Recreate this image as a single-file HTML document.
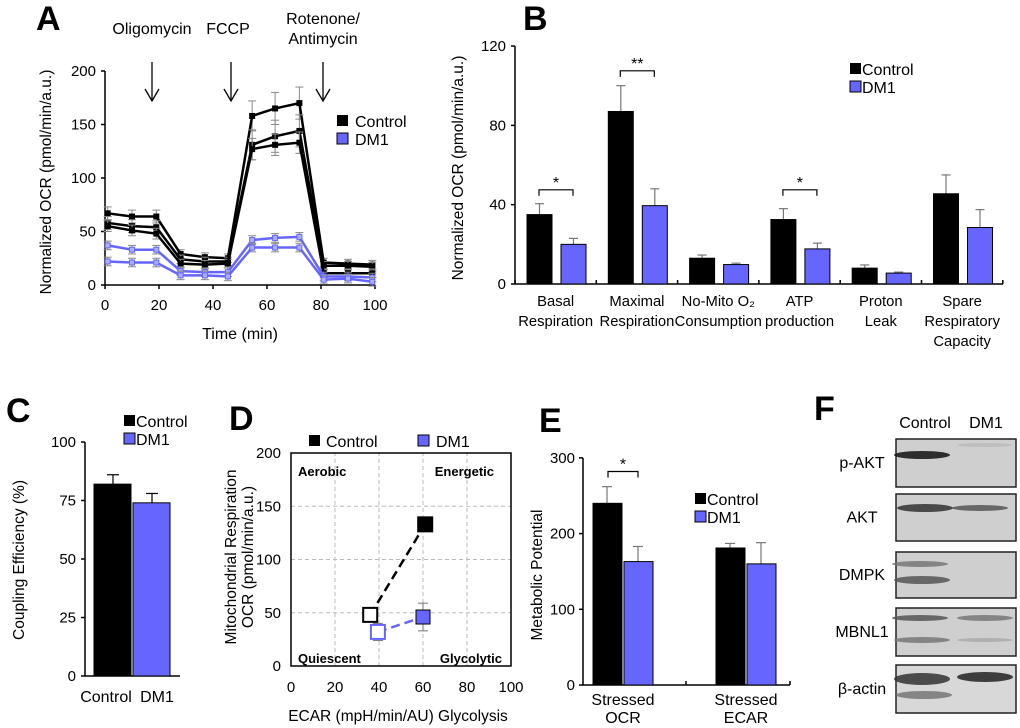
<!DOCTYPE html>
<html><head><meta charset="utf-8"><style>
body{margin:0;background:#fff}
svg{display:block;font-family:"Liberation Sans",Arial,sans-serif}
</style></head><body>
<svg id="fig" width="1020" height="728" viewBox="0 0 1020 728" xmlns="http://www.w3.org/2000/svg">
<g id="A"></g>
<g id="B"></g>
<g id="C"></g>
<g id="D"></g>
<g id="E"></g>
<g id="F"></g>
</svg>
<script>
const BLUE='#6666ff';
const TK=15, LB=16, TT=15.5;
// Panel A data
const aTimes=[1,10,19,28,37,45.5,54.5,63,72,81,90,99];
const aCtrl1=[67,64,64,29,26,25,158,165,170,21,20,19];
const aCtrl2=[58,55,54,24,22,22,131,139,144,18,18,17];
const aCtrl3=[55,51,48,20,19,20,127,131,133,11,11,11];
const aDm1a=[37,33,33,13,12,12,42,44,45,8,8,7];
const aDm1b=[22,21,21,9,9,8,35,35,35,5,6,3];
const aErr=[5,5,5,4,4,4,10,10,10,4,4,4];
const aErrPeak=[6,6,6,4,4,4,14,15,15,4,4,4];
const aYTicks=[0,50,100,150,200];
const aXTicks=[0,20,40,60,80,100];
// Panel B
const bCats=[["Basal","Respiration"],["Maximal","Respiration"],["No-Mito O₂","Consumption"],["ATP","production"],["Proton","Leak"],["Spare","Respiratory","Capacity"]];
const bCtrl=[35,87,13,32.5,8,45.5];
const bCtrlErr=[5.5,13,1.6,5.5,1.6,9.5];
const bDm1=[20,39.5,9.8,17.7,5.5,28.5];
const bDm1Err=[3,8.5,0.7,2.9,0.5,9];
const bYTicks=[0,40,80,120];
// Panel C
const cCats=["Control","DM1"];
const cVals=[82,74];
const cErr=[4,4];
const cYTicks=[0,25,50,75,100];
// Panel D
const dCtrlX=[36,61], dCtrlY=[48,133];
const dDmX=[39.5,60], dDmY=[32,46];
const dDmErr=[8,13];
const dXTicks=[0,20,40,60,80,100];
const dYTicks=[0,50,100,150,200];
// Panel E
const eCats=[["Stressed","OCR"],["Stressed","ECAR"]];
const eCtrl=[240,181];
const eCtrlErr=[22,6];
const eDm1=[163,160];
const eDm1Err=[20,28];
const eYTicks=[0,100,200,300];
// Panel F
const fLabels=["p-AKT","AKT","DMPK","MBNL1","β-actin"];

const NS='http://www.w3.org/2000/svg';
function mk(parent,tag,attrs,text){const e=document.createElementNS(NS,tag);for(const k in attrs)e.setAttribute(k,attrs[k]);if(text!==undefined)e.textContent=text;parent.appendChild(e);return e;}
function line(p,x1,y1,x2,y2,st,w,dash){return mk(p,'line',{x1,y1,x2,y2,stroke:st||'#000','stroke-width':w||1.5,'stroke-dasharray':dash||'none'});}
function txt(p,x,y,s,size,anchor,weight){return mk(p,'text',{x,y,'font-size':size||LB,'text-anchor':anchor||'middle','font-weight':weight||'normal',fill:'#000'},s);}
function vtxt(p,x,y,s,size){return mk(p,'text',{x:0,y:0,'font-size':size||TT,'text-anchor':'middle',transform:`translate(${x},${y}) rotate(-90)`},s);}

// ---- Panel A ----
(function(){
const g=document.getElementById('A');
const ax=v=>105+v*2.7, ay=v=>285-v*1.07;
let t=txt(g,36,30,'A',34,'start','bold');

line(g,ax(0),ay(0),ax(100),ay(0));line(g,ax(0),ay(0),ax(0),ay(200));
aYTicks.forEach(v=>{line(g,ax(0)-4,ay(v),ax(0),ay(v));txt(g,ax(0)-9,ay(v)+5,String(v),TK,'end');});
aXTicks.forEach(v=>{line(g,ax(v),ay(0),ax(v),ay(0)+4);txt(g,ax(v),ay(0)+25,String(v),TK);});
t=txt(g,240,339,'Time (min)',LB);
t=vtxt(g,51,182,'Normalized OCR (pmol/min/a.u.)');

[['Oligomycin',152,34],['FCCP',228,34],['Rotenone/',323,24],['Antimycin',323,44]].forEach(a=>txt(g,a[1],a[2],a[0],LB));
[152,231,323].forEach(x=>{line(g,x,62,x,100,'#000',1.3);mk(g,'polyline',{points:`${x-7},89 ${x},101 ${x+7},89`,fill:'none',stroke:'#000','stroke-width':1.3});});
const series=[[aCtrl1,'#000',aErrPeak],[aCtrl2,'#000',aErrPeak],[aCtrl3,'#000',aErr],[aDm1a,BLUE,aErr],[aDm1b,BLUE,aErr]];
series.forEach((s,si)=>{
  const [vals,col,err]=s; const sg=mk(g,'g',{});
  
  
  vals.forEach((v,i)=>{const e=col==='#000'?err[i]:Math.min(err[i],4);line(sg,ax(aTimes[i]),ay(v-e),ax(aTimes[i]),ay(v+e),'#888',1);line(sg,ax(aTimes[i])-4,ay(v+e),ax(aTimes[i])+4,ay(v+e),'#888',1);line(sg,ax(aTimes[i])-4,ay(v-e),ax(aTimes[i])+4,ay(v-e),'#888',1);});
  mk(sg,'polyline',{points:vals.map((v,i)=>ax(aTimes[i])+','+ay(v)).join(' '),fill:'none',stroke:col,'stroke-width':2.5});
  vals.forEach((v,i)=>mk(sg,'rect',{x:ax(aTimes[i])-2.5,y:ay(v)-2.5,width:5,height:5,fill:col==='#000'?'#000':'#aab0ff',stroke:col,'stroke-width':1}));
});
const lg=mk(g,'g',{});
mk(lg,'rect',{x:337,y:115,width:11,height:11,fill:'#000'});txt(lg,355,127,'Control',LB,'start');
mk(lg,'rect',{x:337,y:133,width:11,height:11,fill:BLUE,stroke:'#000'});txt(lg,355,145,'DM1',LB,'start');
})();

// ---- Panel B ----
(function(){
const g=document.getElementById('B');
const x0=515,gw=81.3,ay=v=>284-v*1.983;
let t=txt(g,523,30,'B',34,'start','bold');
line(g,x0,ay(0),1003,ay(0));line(g,x0,ay(0),x0,ay(120));
bYTicks.forEach(v=>{line(g,x0-4,ay(v),x0,ay(v));txt(g,x0-9,ay(v)+5,String(v),TK,'end');});
for(let i=0;i<=6;i++)line(g,x0+i*gw,ay(0),x0+i*gw,ay(0)-4);
t=vtxt(g,463,168,'Normalized OCR (pmol/min/a.u.)');

bCats.forEach((c,i)=>{
  const gx=x0+i*gw;
  [[bCtrl[i],bCtrlErr[i],'#000',12,'control'],[bDm1[i],bDm1Err[i],BLUE,46,'dm1']].forEach(b=>{
    line(g,gx+b[3]+12.5,ay(b[0]),gx+b[3]+12.5,ay(b[0]+b[1]),'#777',1.2);line(g,gx+b[3]+8,ay(b[0]+b[1]),gx+b[3]+17,ay(b[0]+b[1]),'#777',1.2);
    const r=mk(g,'rect',{x:gx+b[3],y:ay(b[0]),width:25,height:ay(0)-ay(b[0]),fill:b[2],stroke:'#000','stroke-width':1});
    
  });
  c.forEach((s,j)=>txt(g,gx+gw/2,306+j*20,s,14.8));
});
[[0,'*',40.5],[1,'**',100.5],[3,'*',40.5]].forEach(s=>{const gx=x0+s[0]*gw;const y=ay(s[2]+7);
  mk(g,'polyline',{points:`${gx+24},${y+6} ${gx+24},${y} ${gx+58},${y} ${gx+58},${y+6}`,fill:'none',stroke:'#000','stroke-width':1.2});
  txt(g,gx+41,y-2,s[1],LB);});
const lg=mk(g,'g',{});
mk(lg,'rect',{x:850,y:63,width:11,height:11,fill:'#000'});txt(lg,862,75,'Control',LB,'start');
mk(lg,'rect',{x:850,y:81,width:11,height:11,fill:BLUE,stroke:'#000'});txt(lg,862,93,'DM1',LB,'start');
})();

// ---- Panel C ----
(function(){
const g=document.getElementById('C');
const ay=v=>676-v*2.34;
let t=txt(g,6,422,'C',34,'start','bold');
line(g,85,ay(0),180,ay(0));line(g,85,ay(0),85,ay(100));
cYTicks.forEach(v=>{line(g,81,ay(v),85,ay(v));txt(g,76,ay(v)+5,String(v),TK,'end');});
t=vtxt(g,24,560,'Coupling Efficiency (%)');

cCats.forEach((c,i)=>{const bx=94+i*39,col=i?BLUE:'#000';
  line(g,bx+19,ay(cVals[i]),bx+19,ay(cVals[i]+cErr[i]),'#000',1.2);line(g,bx+13,ay(cVals[i]+cErr[i]),bx+25,ay(cVals[i]+cErr[i]),'#000',1.2);
  const r=mk(g,'rect',{x:bx,y:ay(cVals[i]),width:37,height:ay(0)-ay(cVals[i]),fill:col,stroke:'#000','stroke-width':1});
  
  txt(g,bx+(i?24:12),702,c,LB);});
const lg=mk(g,'g',{});
mk(lg,'rect',{x:124,y:415,width:11,height:11,fill:'#000'});txt(lg,136,427,'Control',LB,'start');
mk(lg,'rect',{x:124,y:433,width:11,height:11,fill:BLUE,stroke:'#000'});txt(lg,136,445,'DM1',LB,'start');
})();

// ---- Panel D ----
(function(){
const g=document.getElementById('D');
const ax=v=>291+v*2.2, ay=v=>666-v*1.065;
let t=txt(g,229,430,'D',34,'start','bold');
dXTicks.slice(1,-1).forEach(v=>line(g,ax(v),ay(0),ax(v),ay(200),'#bbb',1,'4,3'));
dYTicks.slice(1,-1).forEach(v=>line(g,ax(0),ay(v),ax(100),ay(v),'#bbb',1,'4,3'));
mk(g,'rect',{x:ax(0),y:ay(200),width:ax(100)-ax(0),height:ay(0)-ay(200),fill:'none',stroke:'#000','stroke-width':1.5});
dXTicks.forEach(v=>txt(g,ax(v),ay(0)+26,String(v),TK));
dYTicks.forEach(v=>txt(g,ax(0)-10,ay(v)+5,String(v),TK,'end'));
txt(g,298,476,'Aerobic',13,'start','bold');txt(g,494,476,'Energetic',13,'end','bold');
txt(g,298,663,'Quiescent',13,'start','bold');txt(g,502,663,'Glycolytic',13,'end','bold');
t=txt(g,398,721,'ECAR (mpH/min/AU) Glycolysis',TT);
t=vtxt(g,236,557,'Mitochondrial Respiration');
vtxt(g,253,557,'OCR (pmol/min/a.u.)');
line(g,ax(dCtrlX[0]),ay(dCtrlY[0]),ax(dCtrlX[1]),ay(dCtrlY[1]),'#000',2.5,'9,5');
line(g,ax(dDmX[0]),ay(dDmY[0]),ax(dDmX[1]),ay(dDmY[1]),BLUE,2.5,'9,5');
dDmX.forEach((x,i)=>{line(g,ax(x),ay(dDmY[i]-dDmErr[i]),ax(x),ay(dDmY[i]+dDmErr[i]),'#777',1);line(g,ax(x)-5,ay(dDmY[i]+dDmErr[i]),ax(x)+5,ay(dDmY[i]+dDmErr[i]),'#777',1);line(g,ax(x)-5,ay(dDmY[i]-dDmErr[i]),ax(x)+5,ay(dDmY[i]-dDmErr[i]),'#777',1);});
let r=mk(g,'rect',{x:ax(dCtrlX[0])-7,y:ay(dCtrlY[0])-7,width:14,height:14,fill:'#fff',stroke:'#000','stroke-width':2});
r=mk(g,'rect',{x:ax(dCtrlX[1])-7,y:ay(dCtrlY[1])-7,width:14,height:14,fill:'#000',stroke:'#000','stroke-width':2});
r=mk(g,'rect',{x:ax(dDmX[0])-7,y:ay(dDmY[0])-7,width:14,height:14,fill:'#fff',stroke:BLUE,'stroke-width':2});
r=mk(g,'rect',{x:ax(dDmX[1])-7,y:ay(dDmY[1])-7,width:14,height:14,fill:BLUE,stroke:'#000','stroke-width':1});
const lg=mk(g,'g',{});
mk(lg,'rect',{x:309,y:435,width:11,height:11,fill:'#000'});txt(lg,326,447,'Control',LB,'start');
mk(lg,'rect',{x:418,y:435,width:11,height:11,fill:BLUE,stroke:'#000'});txt(lg,436,447,'DM1',LB,'start');
})();

// ---- Panel E ----
(function(){
const g=document.getElementById('E');
const ay=v=>685-v*0.757;
let t=txt(g,539,432,'E',34,'start','bold');
line(g,583,ay(0),790,ay(0));line(g,583,ay(0),583,ay(300));
eYTicks.forEach(v=>{line(g,579,ay(v),583,ay(v));txt(g,575,ay(v)+5,String(v),TK,'end');});
line(g,686,ay(0),686,ay(0)-4);line(g,790,ay(0),790,ay(0)-4);
t=vtxt(g,542,575,'Metabolic Potential');
eCats.forEach((c,i)=>{const gx=593+i*123;
  [[eCtrl[i],eCtrlErr[i],'#000',0,'control'],[eDm1[i],eDm1Err[i],BLUE,31,'dm1']].forEach(b=>{
    line(g,gx+b[3]+14,ay(b[0]),gx+b[3]+14,ay(b[0]+b[1]),'#777',1.2);line(g,gx+b[3]+9,ay(b[0]+b[1]),gx+b[3]+19,ay(b[0]+b[1]),'#777',1.2);
    const r=mk(g,'rect',{x:gx+b[3],y:ay(b[0]),width:29,height:ay(0)-ay(b[0]),fill:b[2],stroke:'#000','stroke-width':1});
    });
  c.forEach((s,j)=>txt(g,gx+30,705+j*18,s,LB));});
mk(g,'polyline',{points:`608,${ay(282)+6} 608,${ay(282)} 638,${ay(282)} 638,${ay(282)+6}`,fill:'none',stroke:'#000','stroke-width':1.2});
txt(g,623,ay(282)-2,'*',LB);
const lg=mk(g,'g',{});
mk(lg,'rect',{x:695,y:493,width:11,height:11,fill:'#000'});txt(lg,707,505,'Control',LB,'start');
mk(lg,'rect',{x:695,y:511,width:11,height:11,fill:BLUE,stroke:'#000'});txt(lg,707,523,'DM1',LB,'start');
})();

// ---- Panel F ----
(function(){
const g=document.getElementById('F');
let t=txt(g,814,420,'F',34,'start','bold');
txt(g,925,428,'Control',LB);txt(g,986,428,'DM1',LB);
const boxes=[[439,48],[494,47],[552,46],[608,48],[665,48]];
const bands=[[[[922,16,4,'#111']],[[985,6,2,'#bbb']]],[[[925,14,4,'#333']],[[980,14,3,'#555']]],[[[920,12,3,'#777'],[922,28,4,'#555']],[]],[[[920,10,3,'#555'],[922,32,3,'#777']],[[985,10,3,'#777'],[985,32,2,'#aaa']]],[[[922,14,6,'#333'],[924,30,4,'#777']],[[985,12,5,'#222']]]];
fLabels.forEach((l,i)=>{const [y,h]=boxes[i];
  const bg=mk(g,'g',{});
  mk(bg,'rect',{x:896,y,width:120,height:h,fill:i===4?'#d8d8d8':'#cfcfcf',stroke:'#222','stroke-width':1.5});
  bands[i].forEach(lane=>lane.forEach(b=>mk(bg,'ellipse',{cx:b[0],cy:y+b[1],rx:28,ry:b[2],fill:b[3],opacity:0.85})));
  txt(g,862,y+h/2+5,l,LB);});
})();
</script>
</body></html>
